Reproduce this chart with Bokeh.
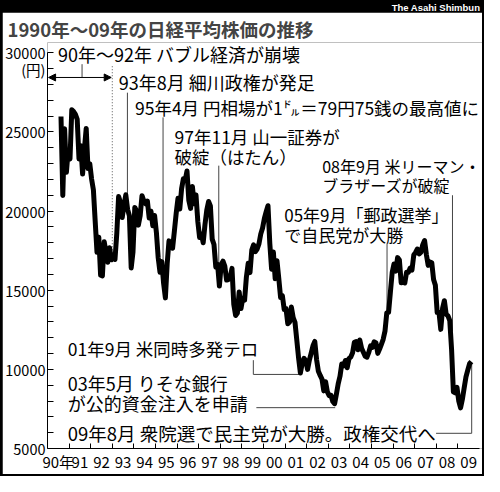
from bokeh.plotting import figure
from bokeh.models import FixedTicker, Label, Arrow, NormalHead, Range1d, ColumnDataSource
from bokeh.layouts import column
from bokeh.embed import file_html
from bokeh.resources import INLINE
from bokeh.core.properties import value

# ---- data: Nikkei 225 month-end closes (yen) ----
n1990 = [25978, 20984, 25194, 22454, 23849]  # Aug-Dec
n1991 = [23293, 26409, 26292, 26111, 25790, 23291, 24121, 22336, 23916, 25222, 22687, 22984]
n1992 = [22023, 21339, 19346, 17391, 18348, 15952, 15910, 18061, 17399, 16767, 17684, 16925]
n1993 = [17024, 16953, 18591, 20919, 20552, 19590, 20380, 21027, 20106, 19703, 16408, 17417]
n1994 = [20229, 19997, 19112, 19725, 20973, 20644, 20462, 20629, 19564, 19990, 19076, 19723]
n1995 = [18650, 17053, 16140, 16807, 15437, 14517, 16678, 18117, 17913, 17655, 18744, 19868]
n1996 = [20813, 20125, 21407, 22041, 21956, 22531, 20693, 20167, 21556, 20466, 21020, 19361]
n1997 = [18330, 18557, 18003, 19151, 20069, 20605, 20331, 18229, 17888, 16459, 16636, 15259]
n1998 = [16628, 16832, 16527, 15641, 15671, 15831, 16379, 14108, 13406, 13565, 14884, 13842]
n1999 = [14500, 14368, 15837, 16702, 16112, 17530, 17862, 17437, 17605, 17943, 18558, 18934]
n2000 = [19540, 19960, 20337, 17974, 16332, 17411, 15727, 16861, 15747, 14540, 14649, 13786]
n2001 = [13843, 12883, 12999, 13934, 13262, 12969, 11861, 10713, 9775, 10367, 10697, 10543]
n2002 = [9997, 10588, 11025, 11493, 11764, 10622, 9878, 9619, 9383, 8640, 9216, 8579]
n2003 = [8340, 8363, 7973, 7831, 8425, 9083, 9563, 10344, 10219, 10560, 10101, 10677]
n2004 = [10784, 11042, 11715, 11762, 11236, 11859, 11326, 11082, 10824, 10771, 11069, 11489]
n2005 = [11388, 11741, 11669, 11009, 11277, 11584, 11900, 12414, 13574, 13607, 14872, 16111]
n2006 = [16650, 16205, 17060, 16906, 15467, 15505, 15457, 16141, 16128, 16399, 16274, 17226]
n2007 = [17383, 17604, 17288, 17400, 17876, 18138, 17249, 16569, 16786, 16737, 15681, 15308]
n2008 = [13592, 13603, 12526, 13850, 14339, 13481, 13377, 13073, 11260, 8577, 8512, 8860]
n2009 = [7994, 7568, 8110, 8828, 9523, 9958, 10357, 10493]  # Jan-Aug

series = [(1990, 8, n1990), (1991, 1, n1991), (1992, 1, n1992), (1993, 1, n1993),
          (1994, 1, n1994), (1995, 1, n1995), (1996, 1, n1996), (1997, 1, n1997),
          (1998, 1, n1998), (1999, 1, n1999), (2000, 1, n2000), (2001, 1, n2001),
          (2002, 1, n2002), (2003, 1, n2003), (2004, 1, n2004), (2005, 1, n2005),
          (2006, 1, n2006), (2007, 1, n2007), (2008, 1, n2008), (2009, 1, n2009)]

year_labels = ["90年", "91", "92", "93", "94", "95", "96", "97", "98", "99",
               "00", "01", "02", "03", "04", "05", "06", "07", "08", "09"]
year_starts = [1990, 1991, 1992, 1993, 1994, 1995, 1996, 1997, 1998, 1999, 2000,
               2001, 2002, 2003, 2004, 2005, 2006, 2007, 2008, 2009, 2010]
y_major = [5000, 10000, 15000, 20000, 25000, 30000]
y_minor = [6000, 7000, 8000, 9000, 11000, 12000, 13000, 14000, 16000, 17000, 18000, 19000,
           21000, 22000, 23000, 24000, 26000, 27000, 28000, 29000]

ann_text = ["90年～92年 バブル経済が崩壊",
            "93年8月 細川政権が発足",
            "95年4月 円相場が1㌦＝79円75銭の最高値に",
            "97年11月 山一証券が\n破綻（はたん）",
            "08年9月 米リーマン・\nブラザーズが破綻",
            "05年9月「郵政選挙」\nで自民党が大勝",
            "01年9月 米同時多発テロ",
            "03年5月 りそな銀行\nが公的資金注入を申請",
            "09年8月 衆院選で民主党が大勝。政権交代へ"]
ann_x = [1990.49, 1993.30, 1994.05, 1995.88, 2002.72, 2000.96, 1990.94, 1990.94, 1990.94]
ann_y = [29940, 28140, 26520, 24100, 22240, 19180, 11300, 8510, 5960]
ann_size = ["18px", "18px", "17.5px", "17.5px", "16px", "17px", "17.5px", "18px", "18.5px"]

# leader lines (x list, y list)
lead_x = [[1991.6, 1991.6], [1993.70, 1993.70], [1995.35, 1995.35], [1997.93, 1997.93],
          [2008.75, 2008.75], [2005.72, 2005.72], [1999.53, 1999.53, 2001.67],
          [1999.67, 2003.32], [2007.99, 2009.64, 2009.64]]
lead_y = [[29280, 28440], [27480, 20950], [25920, 16400], [22870, 16700],
          [21000, 12400], [17950, 13570], [10580, 9680, 9680],
          [7580, 7580], [5960, 5960, 10400]]

JP = "Noto Sans CJK JP"

xs, ys = [], []
for yr, m0, vals in series:
    for i, v in enumerate(vals):
        xs.append(yr + (m0 + i - 0.5) / 12.0)
        ys.append(v)

# ---- top black bar ----
bar = figure(width=480, height=12, x_range=Range1d(0, 1), y_range=Range1d(0, 1),
             output_backend="svg", toolbar_location=None, min_border=0,
             x_axis_location=None, y_axis_location=None,
             background_fill_color="black", border_fill_color="black", outline_line_color=None)
bar.grid.visible = False
bar.add_layout(Label(x=0.995, y=0.45, text="The Asahi Shimbun", text_color="white",
                     text_font="Liberation Sans", text_font_style="bold", text_font_size="9.5px",
                     text_align="right", text_baseline="middle"))

# ---- main chart ----
p = figure(width=480, height=462, x_range=Range1d(1990, 2010.14), y_range=Range1d(5000, 30650),
           output_backend="svg", toolbar_location=None,
           min_border_left=43, min_border_right=0, min_border_top=22, min_border_bottom=26)
p.outline_line_color = None
p.grid.visible = False
p.background_fill_color = "white"
p.border_fill_color = "white"

p.title.text = "1990年～09年の日経平均株価の推移"
p.title.text_font = JP
p.title.text_font_size = "18.5px"
p.title.text_font_style = "bold"
p.title.align = "left"
p.title.offset = -40
p.title.standoff = 2

ya = p.yaxis[0]
ya.ticker = FixedTicker(ticks=y_major, minor_ticks=y_minor)
ya.bounds = (5000, 30000)
ya.major_tick_in = 6
ya.major_tick_out = 0
ya.minor_tick_in = 6
ya.minor_tick_out = 0
ya.axis_line_color = "black"
ya.major_tick_line_color = "black"
ya.minor_tick_line_color = "black"
ya.major_label_text_font = JP
ya.major_label_text_font_size = "14.5px"
ya.major_label_text_color = "black"
ya.major_label_text_line_height = 0.8
ya.major_label_standoff = 2
ya.major_label_overrides = {30000: " \n30000\n(円)"}

xa = p.xaxis[0]
xa.ticker = FixedTicker(ticks=[y0 + 0.5 for y0 in year_starts[:-1]], minor_ticks=year_starts[1:-1])
xa.bounds = (1990, 2010)
xa.major_tick_in = 0
xa.major_tick_out = 0
xa.minor_tick_in = 5
xa.minor_tick_out = 0
xa.axis_line_color = "black"
xa.minor_tick_line_color = "black"
xa.major_label_overrides = {y0 + 0.5: lab for y0, lab in zip(year_starts, year_labels)}
xa.major_label_text_font = JP
xa.major_label_text_font_size = "15px"
xa.major_label_text_color = "black"
xa.major_label_standoff = 2

# leaders
p.multi_line(lead_x, lead_y, line_color="#444444", line_width=1)
p.line([1993.0, 1993.0], [29150, 17000], line_color="#555555", line_width=1, line_dash="1 2")
p.add_layout(Arrow(start=NormalHead(size=7, fill_color="black", line_color="black"),
                   end=NormalHead(size=7, fill_color="black", line_color="black"),
                   x_start=1990.05, y_start=28440, x_end=1992.95, y_end=28440,
                   line_color="black", line_width=1))

# index line
p.line(xs, ys, line_color="black", line_width=5, line_join="round")

# annotation texts
src = ColumnDataSource(dict(x=ann_x, y=ann_y, t=ann_text, s=ann_size))
p.text("x", "y", text="t", source=src, text_font=value(JP), text_font_size="s",
       text_color="black", text_align="left", text_baseline="middle", text_line_height=0.8)

layout = column(bar, p, spacing=0,
                styles={"background-color": "black", "padding": "0px 2px 2px 2px"})

open("out.html", "w").write(file_html(layout, INLINE))
